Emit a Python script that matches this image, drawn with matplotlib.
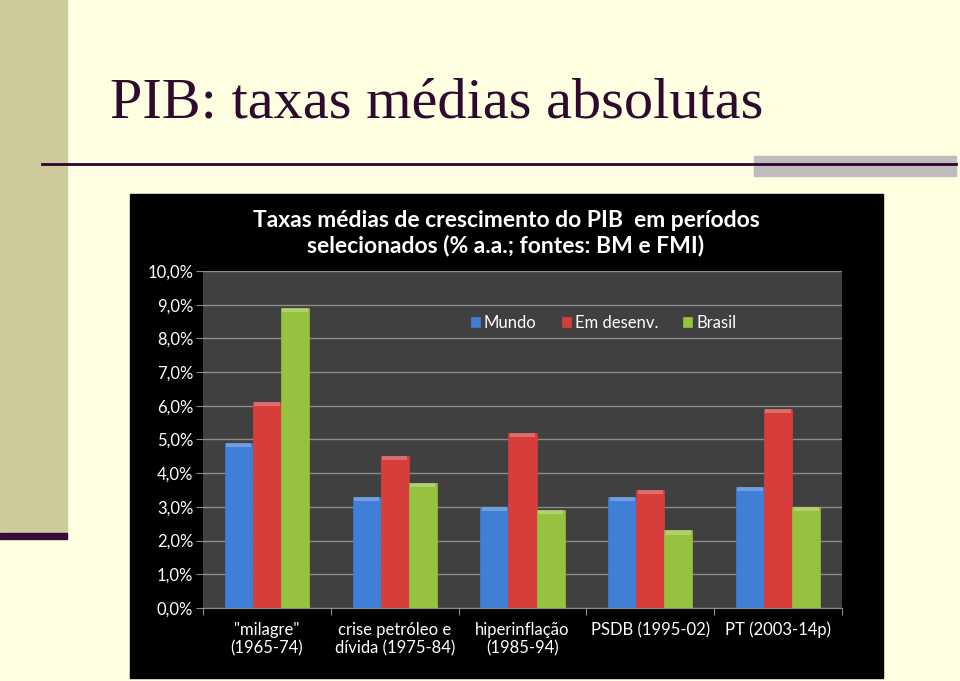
import numpy as np
import matplotlib.pyplot as plt
from matplotlib.patches import Rectangle
from matplotlib.lines import Line2D

# Dados (% a.a.)
categorias = ['"milagre"\n(1965-74)', 'crise petróleo e\ndívida (1975-84)',
              'hiperinflação\n(1985-94)', 'PSDB (1995-02)', 'PT (2003-14p)']
mundo = [4.9, 3.3, 3.0, 3.3, 3.6]
em_desenv = [6.1, 4.5, 5.2, 3.5, 5.9]
brasil = [8.9, 3.7, 2.9, 2.3, 3.0]
series = ['Mundo', 'Em desenv.', 'Brasil']
cores = ['#3F7FD6', '#D63D3B', '#97C23F']
yticks = np.arange(0, 11, 1)

W, H = 960, 681
FONT = ['Lato', 'DejaVu Sans']


def fx(x):
    return x / W


def fy(y):
    return 1 - y / H


fig = plt.figure(figsize=(9.6, 6.81), dpi=100)
fig.patch.set_facecolor('#FEFEE0')

# elementos do slide
fig.patches.append(Rectangle((0, fy(534)), fx(67), 1 - fy(534),
                             transform=fig.transFigure, color='#CCCB99', zorder=0))
fig.patches.append(Rectangle((0, fy(539)), fx(67), fy(533) - fy(539),
                             transform=fig.transFigure, color='#3A0A3A', zorder=1))
fig.patches.append(Rectangle((fx(754), fy(176)), fx(956) - fx(754), fy(156) - fy(176),
                             transform=fig.transFigure, color='#BDBDBD', zorder=1))
fig.lines.append(Line2D([fx(42), fx(956)], [fy(164), fy(164)],
                        transform=fig.transFigure, color='#330033', lw=2, zorder=2))
fig.text(fx(110), fy(117), 'PIB: taxas médias absolutas', family='Liberation Serif',
         fontsize=42, color='#2E0A2E', ha='left', va='baseline')

# fundo preto do gráfico
fig.patches.append(Rectangle((fx(130), fy(678)), fx(883) - fx(130), fy(194) - fy(678),
                             transform=fig.transFigure, color='black', zorder=1))
fig.text(fx(506), fy(233), 'Taxas médias de crescimento do PIB  em períodos\n'
         'selecionados (% a.a.; fontes: BM e FMI)', family=FONT, fontweight='bold',
         fontsize=16.5, color='white', ha='center', va='center', linespacing=1.2,
         zorder=3)

ax = fig.add_axes([fx(203), fy(608), fx(842) - fx(203), fy(271) - fy(608)])
ax.set_zorder(5)
ax.set_facecolor('#404040')

x = np.arange(len(categorias))
w = 0.22
for i, (vals, nome, cor) in enumerate(zip([mundo, em_desenv, brasil], series, cores)):
    ax.bar(x + (i - 1) * w, vals, w, color=cor, label=nome, zorder=3,
           edgecolor=cor, linewidth=0.5)
    ax.bar(x + (i - 1) * w, [0.12] * len(vals), w * 0.9, bottom=np.array(vals) - 0.12,
           color='white', alpha=0.25, zorder=4, linewidth=0)

ax.set_xlim(-0.5, len(categorias) - 0.5)
ax.set_ylim(0, 10)
ax.set_yticks(yticks)
ax.set_yticklabels([f'{v:.1f}%'.replace('.', ',') for v in yticks],
                   family=FONT, fontsize=12, color='white')
ax.yaxis.grid(True, color='#8C8C8C', lw=1, zorder=1)
ax.set_axisbelow(True)
for s in ['top', 'right', 'left']:
    ax.spines[s].set_visible(False)
ax.spines['bottom'].set_color('#8C8C8C')
ax.tick_params(axis='y', length=5, color='#8C8C8C', pad=2)

ax.set_xticks(np.arange(len(categorias) + 1) - 0.5)
ax.set_xticklabels([])
ax.tick_params(axis='x', length=5, color='#8C8C8C', direction='out')
ax.set_xticks(x, minor=True)
ax.set_xticklabels(categorias, minor=True, family=FONT, fontsize=12, color='white',
                   linespacing=1.2, va='top')
ax.tick_params(axis='x', which='minor', length=0, pad=10)

ax.legend(loc='center', bbox_to_anchor=(0.627, 0.847), ncol=3, frameon=False,
          prop={'family': FONT, 'size': 12}, labelcolor='white',
          handlelength=0.55, handleheight=0.55, handletextpad=0.25, columnspacing=1.5)

fig.savefig('out.png', dpi=100, facecolor=fig.get_facecolor())
